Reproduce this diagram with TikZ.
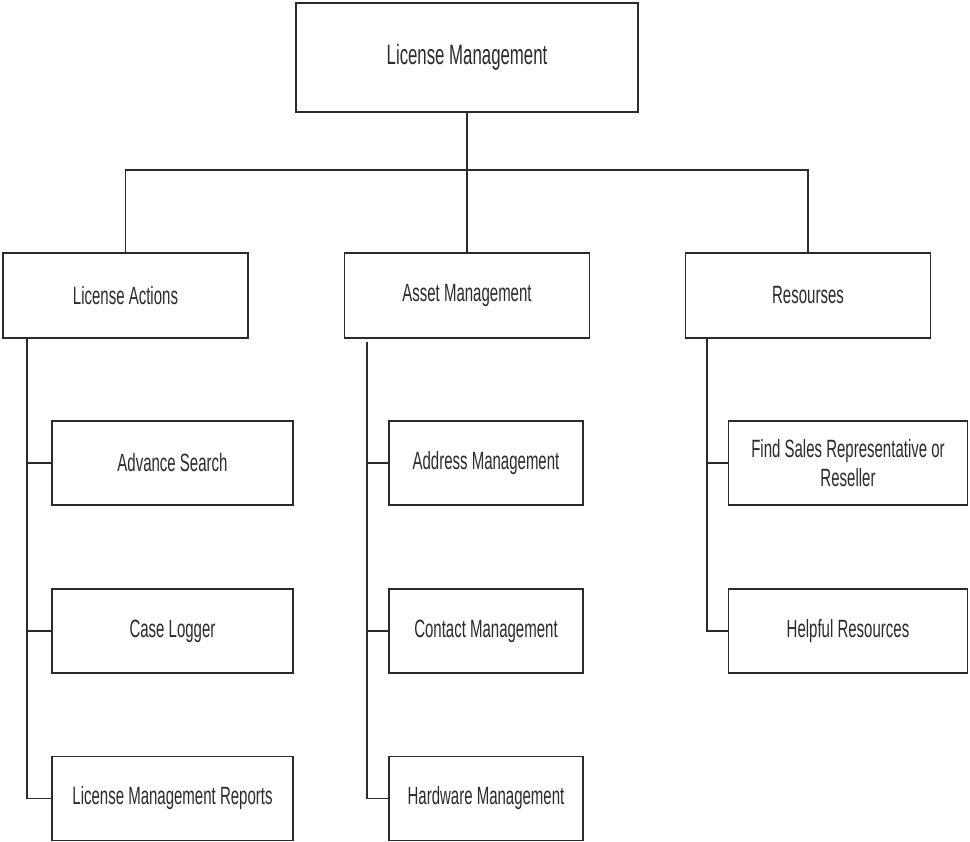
\documentclass[tikz,border=0pt]{standalone}
\usepackage{fontspec}
\setmainfont{Liberation Sans}[FakeStretch=0.6]
\definecolor{tinta}{HTML}{2B2B2B}

\begin{document}
\begin{tikzpicture}[x=1pt,y=-1pt,
   caja/.style={draw=tinta,line width=1.5pt,fill=white,align=center,text=tinta,font=\fontsize{25}{29}\selectfont,inner sep=0pt},
   raiz/.style={caja,minimum width=342pt,minimum height=109pt,font=\fontsize{28}{32}\selectfont},
   rama/.style={caja,minimum width=245pt,minimum height=85pt},
   hoja/.style={caja,minimum width=241pt,minimum height=84pt},
   hojac/.style={caja,minimum width=194pt,minimum height=84pt},
   enlace/.style={draw=tinta,line width=1.3pt}]

  \useasboundingbox (0,0) rectangle (970,842);

  % --- raiz ---
  \node[raiz] (lm) at (467,57.5) {License Management};
  \coordinate (barra) at (467,170);

  % --- segundo nivel ---
  \node[rama] (la)  at (125.5,295.5) {License Actions};
  \node[rama] (am)  at (467,295.5)   {Asset Management};
  \node[rama] (res) at (808,295.5)   {Resourses};

  \draw[enlace] (lm) -- (barra);
  \draw[enlace] (la.north) |- (barra) -| (res.north);
  \draw[enlace] (barra) -- (am.north);

  % --- License Actions ---
  \node[hoja] (as)  at (172.5,463)   {Advance Search};
  \node[hoja] (cl)  at (172.5,631)   {Case Logger};
  \node[hoja] (lmr) at (172.5,798.5) {License Management Reports};
  \coordinate (tla) at (27,338);
  \draw[enlace] (tla) |- (lmr.west);
  \foreach \h in {as,cl}
    \draw[enlace] (tla |- \h.west) -- (\h.west);

  % --- Asset Management ---
  \node[hojac] (adm) at (486,463)   {Address Management};
  \node[hojac] (cm)  at (486,631)   {Contact Management};
  \node[hojac] (hm)  at (486,798.5) {Hardware Management};
  \coordinate (tam) at (367,342);
  \draw[enlace] (tam) |- (hm.west);
  \foreach \h in {adm,cm}
    \draw[enlace] (tam |- \h.west) -- (\h.west);

  % --- Resourses ---
  \node[hoja,minimum width=239pt] (fsr) at (848,463) {Find Sales Representative or\\Reseller};
  \node[hoja,minimum width=239pt] (hr)  at (848,631) {Helpful Resources};
  \coordinate (tre) at (707,338);
  \draw[enlace] (tre) |- (hr.west);
  \draw[enlace] (tre |- fsr.west) -- (fsr.west);
\end{tikzpicture}
\end{document}
